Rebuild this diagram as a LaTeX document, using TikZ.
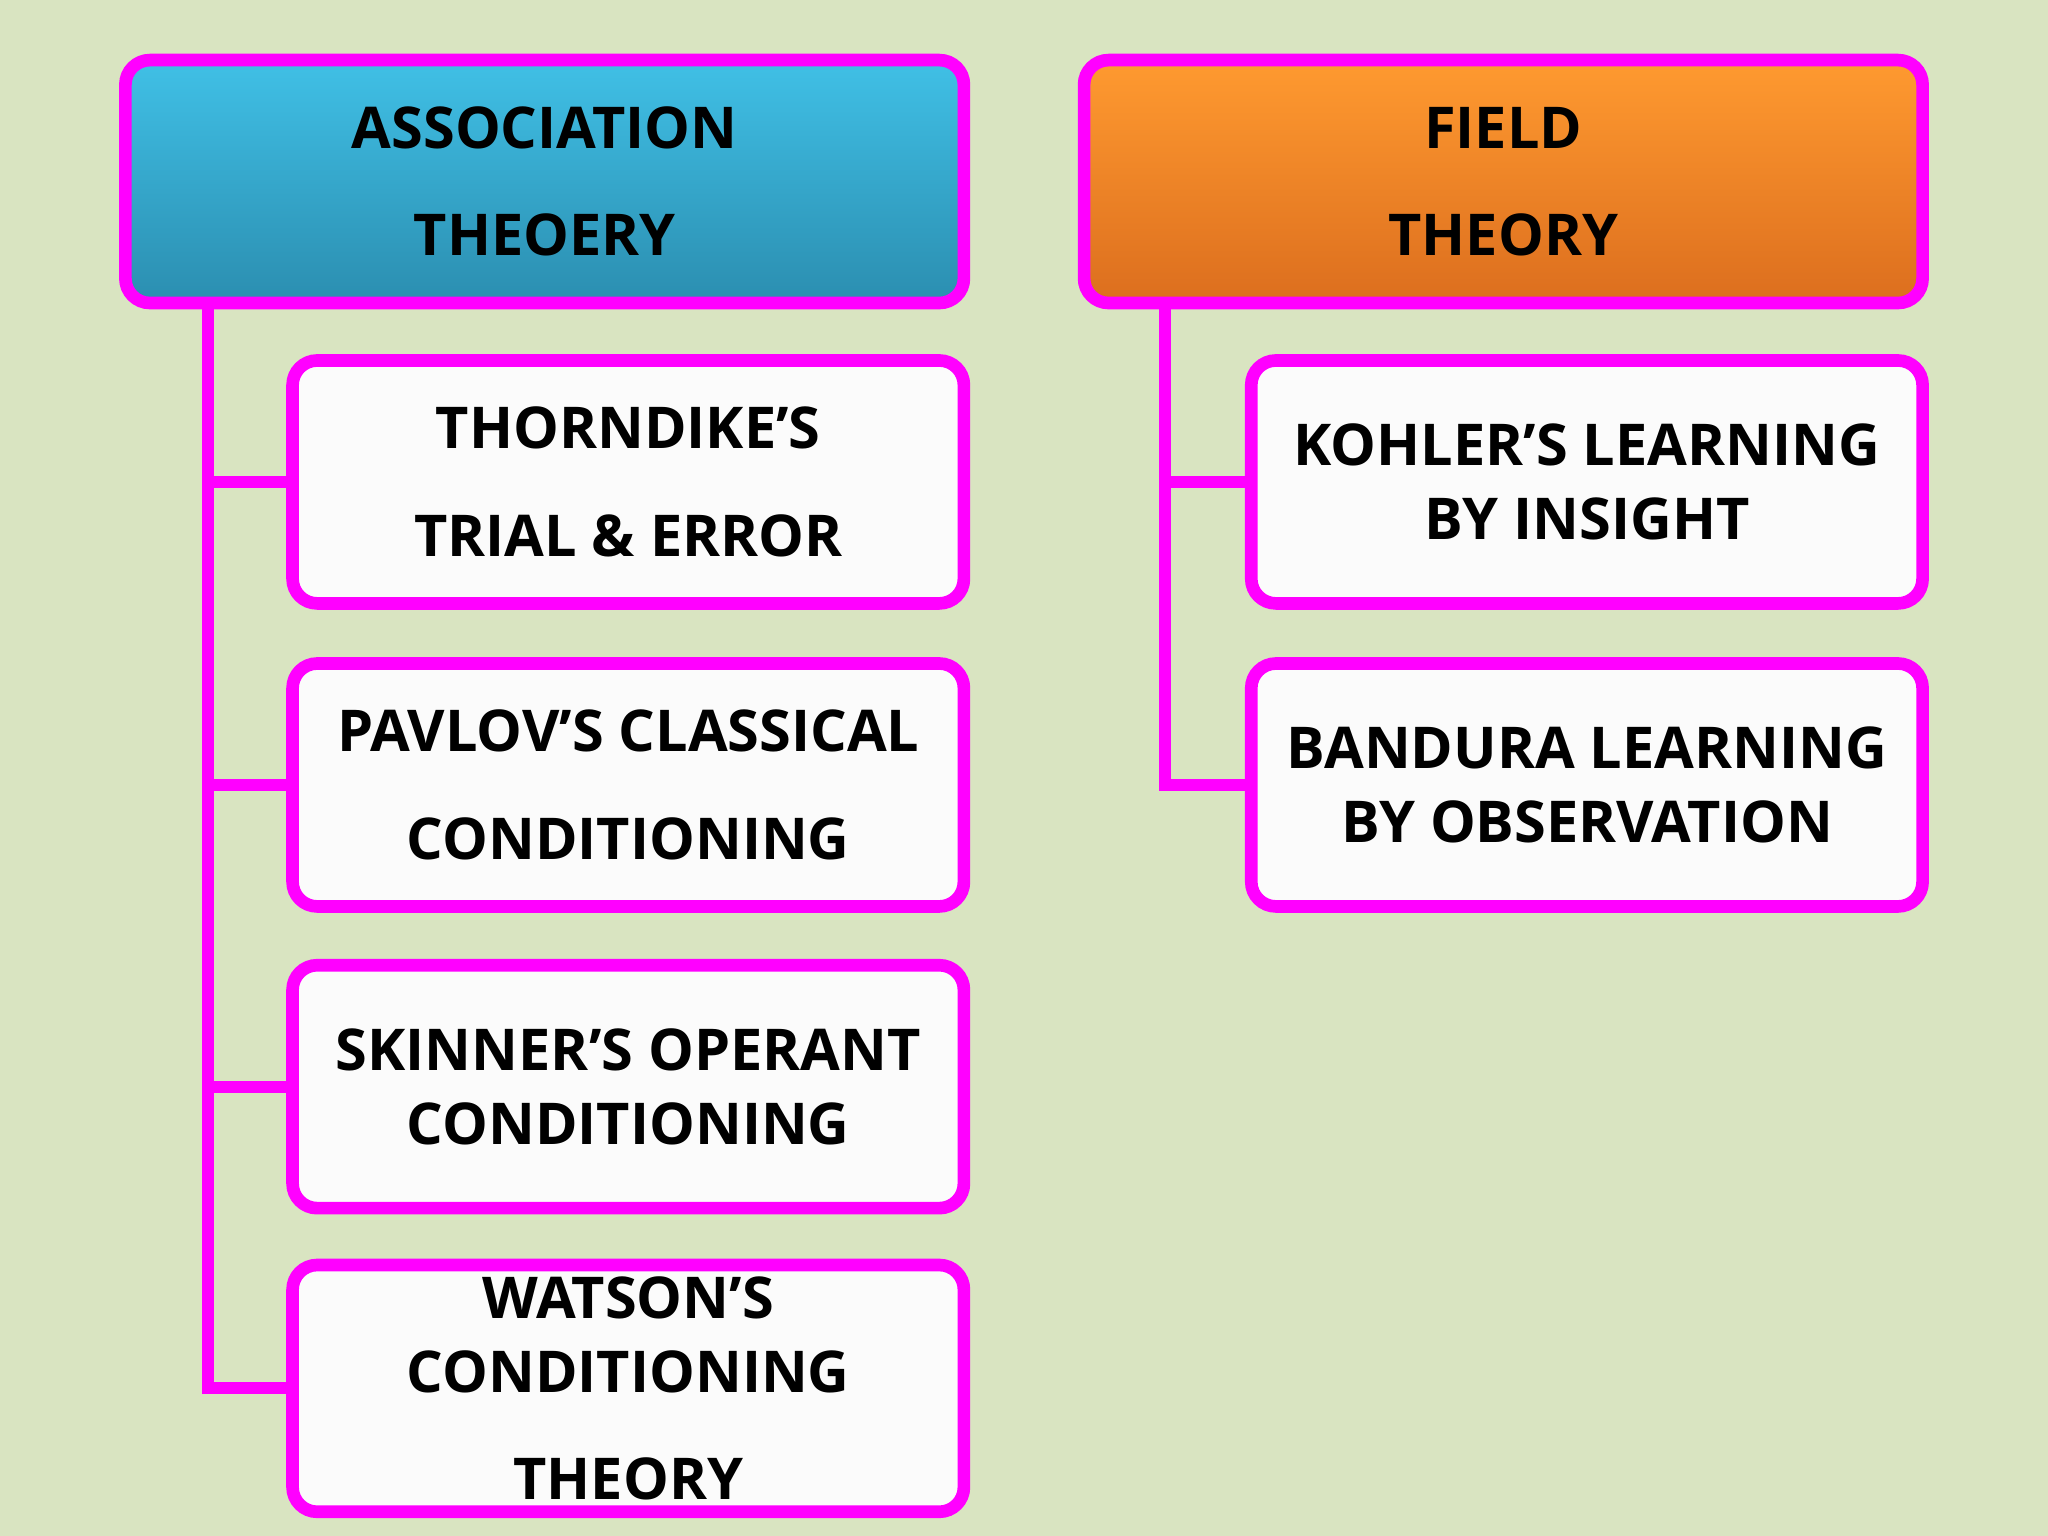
\documentclass[tikz,border=0pt]{standalone}
\usepackage{fontspec}
\setmainfont{Open Sans}
\usetikzlibrary{calc}
\definecolor{bgcol}{HTML}{D9E4C1}
\definecolor{rim}{HTML}{FF00FF}
\definecolor{blueTop}{HTML}{40C0E6}
\definecolor{blueBot}{HTML}{2B8EB0}
\definecolor{orTop}{HTML}{FF9A30}
\definecolor{orBot}{HTML}{DC6E1E}
\begin{document}
\begin{tikzpicture}[x=0.01306cm, y=-0.01306cm,
    box/.style={rectangle, rounded corners=7pt, draw=rim, line width=3.6pt,
      fill=white!97!gray, align=center,
      font=\fontsize{16.4}{21}\bfseries\selectfont},
    head/.style={box, minimum width=642*0.01306cm, minimum height=186*0.01306cm},
    leaf/.style={box, minimum width=514*0.01306cm, minimum height=186*0.01306cm},
    link/.style={draw=rim, line width=3.4pt}]
        \fill [bgcol] (0,0) rectangle (1568,1176);
        \useasboundingbox (0,0) rectangle (1568,1176);
        % kopjes
        \node [head, top color=blueTop, bottom color=blueBot] (assoc) at (417,139) {ASSOCIATION\\[9.5pt]THEOERY};
        \node [head, top color=orTop, bottom color=orBot] (field) at (1151,139) {FIELD\\[9.5pt]THEORY};
        % associatie
        \node [leaf] (thorndike) at (481,369) {THORNDIKE’S\\[9.5pt]TRIAL \& ERROR};
        \node [leaf] (pavlov) at (481,601) {PAVLOV’S CLASSICAL\\[9.5pt]CONDITIONING};
        \node [leaf] (skinner) at (481,832) {SKINNER’S OPERANT\\CONDITIONING};
        \node [leaf] (watson) at (481,1063) {WATSON’S\\CONDITIONING\\[9.5pt]THEORY};
        % veld
        \node [leaf] (kohler) at (1215,369) {KOHLER’S LEARNING\\BY INSIGHT};
        \node [leaf] (bandura) at (1215,601) {BANDURA LEARNING\\BY OBSERVATION};
        % lijnen
        \coordinate (atrunk) at ($(assoc.south west)+(68,-4)$);
        \coordinate (ftrunk) at ($(field.south west)+(67,-4)$);
        \foreach \k in {thorndike, pavlov, skinner, watson}
            \draw [link] (atrunk) |- (\k.west);
        \foreach \k in {kohler, bandura}
            \draw [link] (ftrunk) |- (\k.west);
    \end{tikzpicture}
\end{document}
